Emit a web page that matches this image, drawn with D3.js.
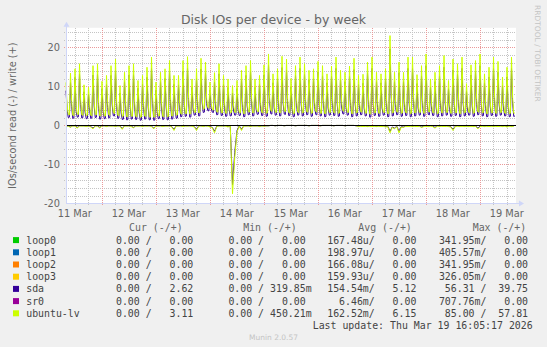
<!DOCTYPE html>
<html>
<head>
<meta charset="utf-8">
<script src="https://cdn.jsdelivr.net/npm/d3@7"></script>
<style>
  html, body { margin: 0; padding: 0; background: #f0f0f0; }
  svg { display: block; }
  text { font-family: "DejaVu Sans", sans-serif; fill: #666; }
  text.mono { font-family: "DejaVu Sans Mono", monospace; white-space: pre; }
</style>
</head>
<body>
<div id="chart"></div>
<script>
// first sample at 11 Mar 08:05 (UTC); writes every 30 min, reads every hour
const startTime = Date.UTC(2026, 2, 11, 8, 5);
const writeStepHours = 0.5;
const readStepHours = 1;

const ubuntuLvWrite = [
  11.0, 5.2, 2.8, 2.7, 13.4, 6.1, 2.6, 2.5,
  14.5, 4.8, 2.9, 2.8, 15.8, 6.5, 2.7, 2.6,
  10.4, 4.5, 2.5, 2.6, 9.8, 5.0, 2.6, 2.5,
  15.3, 6.2, 2.8, 2.7, 15.8, 5.6, 2.4, 2.5,
  11.3, 4.9, 2.5, 2.4, 12.8, 5.8, 2.7, 2.6,
  15.3, 6.6, 3.4, 3.0, 17.0, 6.0, 2.6, 2.5,
  10.2, 4.4, 2.3, 2.4, 13.6, 5.5, 2.2, 2.3,
  15.3, 6.3, 2.4, 2.3, 15.8, 5.9, 2.3, 2.2,
  11.5, 4.6, 2.1, 2.2, 12.8, 5.3, 2.4, 2.3,
  14.9, 6.1, 2.2, 2.1, 17.5, 6.8, 2.1, 2.2,
  11.1, 4.7, 2.5, 2.4, 13.6, 5.4, 2.3, 2.2,
  14.5, 6.0, 2.2, 2.3, 16.6, 6.4, 2.4, 2.5,
  12.8, 5.2, 2.6, 2.7, 12.8, 5.7, 3.0, 2.9,
  16.6, 6.5, 3.1, 3.0, 17.6, 6.9, 2.9, 3.1,
  11.9, 5.4, 3.4, 3.3, 14.5, 6.3, 3.2, 3.5,
  17.2, 7.1, 4.1, 4.3, 16.2, 6.8, 4.6, 4.4,
  11.1, 5.6, 4.2, 3.9, 13.5, 5.9, 3.5, 3.4,
  15.8, 6.4, 3.3, 3.2, 12.8, 5.5, 3.1, 3.2,
  11.9, 5.2, 3.2, 3.3, 10.2, 4.9, 3.4, 3.3,
  11.5, 5.1, 3.3, 3.2, 14.1, 5.8, 3.0, 3.1,
  15.3, 6.2, 3.5, 3.4, 16.6, 6.7, 3.2, 3.3,
  11.9, 5.3, 3.6, 3.5, 12.8, 5.6, 3.3, 3.2,
  15.5, 6.4, 3.1, 3.2, 18.3, 7.0, 3.8, 3.6,
  13.2, 5.7, 3.4, 3.3, 14.5, 6.1, 3.2, 3.3,
  17.7, 6.9, 3.7, 3.5, 17.0, 6.6, 3.3, 3.2,
  12.0, 5.4, 3.0, 3.1, 15.3, 6.2, 3.4, 3.3,
  17.5, 6.8, 3.2, 3.3, 15.8, 6.3, 3.5, 3.4,
  14.1, 5.9, 3.1, 3.2, 14.5, 6.0, 3.6, 3.4,
  16.4, 6.6, 3.2, 3.1, 15.3, 6.2, 3.0, 3.1,
  13.2, 5.6, 3.4, 3.3, 15.2, 6.2, 3.3, 3.2,
  17.5, 6.9, 3.1, 3.2, 14.1, 5.9, 3.8, 3.6,
  13.6, 5.7, 3.4, 3.3, 15.2, 6.3, 3.0, 3.1,
  17.2, 6.8, 3.2, 3.3, 12.8, 5.5, 3.5, 3.4,
  13.1, 5.6, 3.2, 3.1, 16.2, 6.5, 2.9, 3.0,
  17.5, 6.9, 3.3, 3.2, 13.6, 5.8, 3.1, 3.2,
  13.2, 5.6, 3.4, 3.3, 14.5, 6.1, 3.0, 3.1,
  23.0, 8.5, 3.2, 3.3, 13.6, 5.8, 3.5, 3.4,
  16.2, 6.5, 3.1, 3.2, 13.6, 5.8, 3.3, 3.2,
  17.5, 6.9, 3.0, 3.1, 17.5, 6.8, 3.2, 3.3,
  13.0, 5.6, 3.4, 3.3, 15.3, 6.2, 3.1, 3.2,
  18.3, 7.1, 3.6, 3.4, 11.9, 5.3, 3.3, 3.2,
  13.6, 5.8, 3.0, 3.1, 15.3, 6.2, 3.2, 3.3,
  17.9, 7.0, 3.4, 3.3, 11.5, 5.2, 3.1, 3.2,
  17.0, 6.7, 3.3, 3.2, 15.8, 6.4, 3.0, 3.1,
  17.5, 6.9, 3.2, 3.3, 10.7, 5.0, 3.4, 3.3,
  15.5, 6.3, 3.1, 3.2, 16.6, 6.6, 3.5, 3.4,
  18.3, 7.1, 3.2, 3.3, 13.2, 5.6, 3.0, 3.1,
  14.9, 6.2, 3.3, 3.2, 17.5, 6.9, 3.1, 3.2,
  16.4, 6.6, 3.4, 3.3, 12.4, 5.4, 3.2, 3.1,
  14.9, 6.1, 3.0, 3.1, 17.5, 6.9, 3.1, 3.2
];

const sdaWrite = [
  8.9, 4.0, 2.0, 2.1, 11.0, 4.9, 1.8, 1.9,
  12.3, 3.6, 2.1, 2.2, 13.2, 5.3, 1.9, 2.0,
  8.6, 3.3, 1.7, 1.8, 8.0, 3.8, 1.8, 1.9,
  12.9, 5.0, 2.0, 2.1, 13.1, 4.4, 1.6, 1.7,
  9.4, 3.7, 1.7, 1.8, 10.5, 4.6, 1.9, 2.0,
  12.8, 5.4, 2.5, 2.4, 14.1, 4.8, 1.8, 1.9,
  8.3, 3.2, 1.5, 1.6, 11.2, 4.3, 1.4, 1.5,
  12.9, 5.1, 1.6, 1.7, 13.0, 4.7, 1.5, 1.6,
  9.5, 3.4, 1.3, 1.4, 10.6, 4.1, 1.6, 1.7,
  12.3, 4.9, 1.4, 1.5, 14.6, 5.6, 1.3, 1.4,
  9.0, 3.5, 1.7, 1.8, 11.2, 4.2, 1.5, 1.6,
  12.0, 4.8, 1.4, 1.5, 13.9, 5.2, 1.6, 1.7,
  10.5, 4.0, 1.8, 1.9, 10.4, 4.5, 2.2, 2.3,
  13.9, 5.3, 2.3, 2.4, 14.7, 5.7, 2.1, 2.2,
  9.7, 4.2, 2.6, 2.7, 12.0, 5.1, 2.4, 2.5,
  14.4, 5.9, 3.3, 3.4, 13.5, 5.6, 3.8, 3.7,
  9.0, 4.4, 3.4, 3.3, 11.1, 4.7, 2.7, 2.8,
  13.2, 5.2, 2.5, 2.6, 10.5, 4.3, 2.3, 2.4,
  9.7, 4.0, 2.4, 2.5, 8.3, 3.7, 2.6, 2.7,
  9.4, 3.9, 2.5, 2.6, 11.7, 4.6, 2.2, 2.3,
  12.8, 5.0, 2.7, 2.8, 13.9, 5.5, 2.4, 2.5,
  9.7, 4.1, 2.8, 2.9, 10.5, 4.4, 2.5, 2.6,
  12.9, 5.2, 2.3, 2.4, 15.4, 5.8, 3.0, 2.9,
  10.9, 4.5, 2.6, 2.7, 12.0, 4.9, 2.4, 2.5,
  14.8, 5.7, 2.9, 2.8, 14.2, 5.4, 2.5, 2.6,
  9.8, 4.2, 2.2, 2.3, 12.8, 5.0, 2.6, 2.7,
  14.6, 5.6, 2.4, 2.5, 13.1, 5.1, 2.7, 2.8,
  11.7, 4.7, 2.3, 2.4, 12.0, 4.8, 2.8, 2.7,
  13.7, 5.4, 2.4, 2.5, 12.7, 5.0, 2.2, 2.3,
  10.9, 4.4, 2.6, 2.7, 12.6, 5.0, 2.5, 2.6,
  14.6, 5.7, 2.3, 2.4, 11.7, 4.7, 3.0, 2.9,
  11.2, 4.5, 2.6, 2.7, 12.6, 5.1, 2.2, 2.3,
  14.3, 5.6, 2.4, 2.5, 10.5, 4.3, 2.7, 2.8,
  10.8, 4.4, 2.4, 2.5, 13.5, 5.3, 2.1, 2.2,
  14.6, 5.7, 2.5, 2.6, 11.2, 4.6, 2.3, 2.4,
  10.9, 4.4, 2.6, 2.7, 12.0, 4.9, 2.2, 2.3,
  19.6, 7.3, 2.4, 2.5, 11.2, 4.6, 2.7, 2.8,
  13.5, 5.3, 2.3, 2.4, 11.2, 4.6, 2.5, 2.6,
  14.6, 5.7, 2.2, 2.3, 14.6, 5.6, 2.4, 2.5,
  10.7, 4.4, 2.6, 2.7, 12.7, 5.0, 2.3, 2.4,
  15.3, 5.9, 2.8, 2.7, 9.8, 4.1, 2.5, 2.6,
  11.2, 4.6, 2.2, 2.3, 12.7, 5.0, 2.4, 2.5,
  14.9, 5.8, 2.6, 2.7, 9.4, 4.0, 2.3, 2.4,
  14.2, 5.5, 2.5, 2.6, 13.1, 5.2, 2.2, 2.3,
  14.6, 5.7, 2.4, 2.5, 8.7, 3.8, 2.6, 2.7,
  12.9, 5.1, 2.3, 2.4, 13.8, 5.4, 2.7, 2.8,
  15.3, 5.9, 2.4, 2.5, 10.9, 4.4, 2.2, 2.3,
  12.4, 5.0, 2.5, 2.6, 14.6, 5.7, 2.3, 2.4,
  13.6, 5.4, 2.6, 2.7, 10.2, 4.2, 2.4, 2.5,
  12.4, 4.9, 2.2, 2.3, 14.6, 5.7, 2.3, 2.4
];

// read rates, drawn below zero
const ubuntuLvRead = [
  0.1, 0.2, 0.5, 0.1, 0.2, 0.7, 0.1, 0.2, 0.1, 0.3,
  0.1, 0.4, 0.9, 0.1, 0.2, 0.7, 0.1, 0.1, 0.3, 0.1,
  0.2, 0.1, 0.3, 0.1, 0.2, 1.0, 0.1, 0.2, 0.1, 0.3,
  0.6, 0.1, 0.2, 0.1, 0.3, 0.1, 0.2, 0.1, 0.3, 0.9,
  0.1, 0.2, 0.1, 0.3, 0.1, 0.2, 0.1, 0.4, 1.3, 0.1,
  0.2, 0.1, 0.3, 0.1, 0.2, 0.1, 0.2, 0.4, 1.3, 0.2,
  0.1, 0.3, 0.1, 0.2, 0.4, 0.6, 1.9, 0.3, 0.1, 0.2,
  0.1, 0.2, 0.4, 0.1, 17.5, 8.1, 1.7, 0.2, 1.3, 0.1,
  0.2, 0.1, 0.3, 0.1, 0.2, 0.1, 0.3, 0.1, 0.2, 0.1,
  0.1, 0.0, 0.0, 0.1, 0.0, 0.0, 0.0, 0.1, 0.0, 0.0,
  0.0, 0.0, 0.1, 0.0, 0.0, 0.0, 0.0, 0.0, 0.1, 0.0,
  0.0, 0.0, 0.0, 0.1, 0.0, 0.0, 0.0, 0.0, 0.0, 0.1,
  0.0, 0.0, 0.0, 0.0, 0.1, 0.0, 0.0, 0.0, 0.0, 0.1,
  0.3, 0.2, 0.3, 0.2, 0.3, 0.2, 0.3, 0.2, 0.3, 0.2,
  0.3, 0.2, 0.4, 0.3, 1.9, 0.5, 0.9, 0.3, 1.9, 0.4,
  0.5, 0.2, 0.3, 0.2, 0.3, 0.2, 0.3, 0.2, 0.5, 0.3,
  0.2, 0.3, 0.2, 0.3, 0.7, 0.2, 0.3, 0.2, 0.3, 0.2,
  0.3, 0.4, 1.3, 0.3, 0.2, 0.3, 0.2, 0.3, 0.2, 0.3,
  0.2, 0.3, 0.2, 0.9, 0.3, 0.2, 0.3, 0.2, 0.3, 0.2,
  0.3, 0.2, 0.3, 0.2, 0.3, 0.2, 0.4, 0.2, 0.3, 0.2
];

const sdaRead = [
  0.1, 0.1, 0.4, 0.1, 0.1, 0.5, 0.1, 0.1, 0.1, 0.2,
  0.1, 0.3, 0.7, 0.1, 0.1, 0.5, 0.1, 0.1, 0.2, 0.1,
  0.1, 0.1, 0.2, 0.1, 0.1, 0.8, 0.1, 0.1, 0.1, 0.2,
  0.5, 0.1, 0.1, 0.1, 0.2, 0.1, 0.1, 0.1, 0.2, 0.7,
  0.1, 0.1, 0.1, 0.2, 0.1, 0.1, 0.1, 0.3, 1.0, 0.1,
  0.1, 0.1, 0.2, 0.1, 0.1, 0.1, 0.1, 0.3, 1.0, 0.1,
  0.1, 0.2, 0.1, 0.1, 0.3, 0.5, 1.5, 0.2, 0.1, 0.1,
  0.1, 0.1, 0.3, 0.1, 15.2, 6.9, 1.3, 0.1, 1.0, 0.1,
  0.1, 0.1, 0.2, 0.1, 0.1, 0.1, 0.2, 0.1, 0.1, 0.1,
  0.1, 0.0, 0.0, 0.1, 0.0, 0.0, 0.0, 0.1, 0.0, 0.0,
  0.0, 0.0, 0.1, 0.0, 0.0, 0.0, 0.0, 0.0, 0.1, 0.0,
  0.0, 0.0, 0.0, 0.1, 0.0, 0.0, 0.0, 0.0, 0.0, 0.1,
  0.0, 0.0, 0.0, 0.0, 0.1, 0.0, 0.0, 0.0, 0.0, 0.1,
  0.2, 0.1, 0.2, 0.1, 0.2, 0.1, 0.2, 0.1, 0.2, 0.1,
  0.2, 0.1, 0.3, 0.2, 1.5, 0.4, 0.7, 0.2, 1.5, 0.3,
  0.4, 0.1, 0.2, 0.1, 0.2, 0.1, 0.2, 0.1, 0.4, 0.2,
  0.1, 0.2, 0.1, 0.2, 0.5, 0.1, 0.2, 0.1, 0.2, 0.1,
  0.2, 0.3, 1.0, 0.2, 0.1, 0.2, 0.1, 0.2, 0.1, 0.2,
  0.1, 0.2, 0.1, 0.7, 0.2, 0.1, 0.2, 0.1, 0.2, 0.1,
  0.2, 0.1, 0.2, 0.1, 0.2, 0.1, 0.3, 0.1, 0.2, 0.1
];

const yTickValues = [-20, -10, 0, 10, 20];

// legend
const legendNames = ["loop0", "loop1", "loop2", "loop3", "sda", "sr0", "ubuntu-lv"];
const legendColors = ["#00cc00", "#0066b3", "#ff8000", "#ffcc00", "#330099", "#990099", "#ccff00"];
const curRead  = ["0.00", "0.00", "0.00", "0.00", "0.00", "0.00", "0.00"];
const curWrite = ["0.00", "0.00", "0.00", "0.00", "2.62", "0.00", "3.11"];
const minRead  = ["0.00", "0.00", "0.00", "0.00", "0.00", "0.00", "0.00"];
const minWrite = ["0.00", "0.00", "0.00", "0.00", "319.85m", "0.00", "450.21m"];
const avgRead  = ["167.48u", "198.97u", "166.08u", "159.93u", "154.54m", "6.46m", "162.52m"];
const avgWrite = ["0.00", "0.00", "0.00", "0.00", "5.12", "0.00", "6.15"];
const maxRead  = ["341.95m", "405.57m", "341.95m", "326.05m", "56.31", "707.76m", "85.00"];
const maxWrite = ["0.00", "0.00", "0.00", "0.00", "39.75", "0.00", "57.81"];

const width = 547, height = 347;
const plot = {left: 66, right: 516, top: 27.8, bottom: 203.5};

const svg = d3.select("#chart")
    .append("svg")
    .attr("width", width)
    .attr("height", height)
    .attr("viewBox", `0 0 ${width} ${height}`);

svg.append("rect").attr("width", width).attr("height", height).attr("fill", "#f0f0f0");
svg.append("rect")
    .attr("x", plot.left).attr("y", plot.top)
    .attr("width", plot.right - plot.left).attr("height", plot.bottom - plot.top)
    .attr("fill", "#ffffff");

const hour = 3600 * 1000;
const t0 = new Date(startTime);
const t1 = new Date(startTime + 200 * hour);

const x = d3.scaleUtc().domain([t0, t1]).range([plot.left, plot.right]);
const y = d3.scaleLinear().domain([-20, 25]).range([plot.bottom, plot.top]);

// grid
const grid = svg.append("g").attr("shape-rendering", "crispEdges");
const midnights = d3.utcDay.range(t0, t1);
const sixHours = d3.utcHour.every(6).range(t0, t1).filter(d => d.getUTCHours() !== 0);
const px = v => Math.round(v) + 0.5;

grid.selectAll("line.vminor")
    .data(sixHours)
    .join("line")
    .attr("x1", d => px(x(d))).attr("x2", d => px(x(d)))
    .attr("y1", plot.top).attr("y2", plot.bottom + 2)
    .attr("stroke", "#c4c4c4").attr("stroke-dasharray", "1,1");

const yMinor = d3.range(-18, 25, 2).filter(v => v % 10 !== 0);
grid.selectAll("line.hminor")
    .data(yMinor)
    .join("line")
    .attr("x1", plot.left - 2).attr("x2", plot.right)
    .attr("y1", d => px(y(d))).attr("y2", d => px(y(d)))
    .attr("stroke", "#c4c4c4").attr("stroke-dasharray", "1,1");

grid.selectAll("line.vmajor")
    .data(midnights)
    .join("line")
    .attr("x1", d => px(x(d))).attr("x2", d => px(x(d)))
    .attr("y1", plot.top).attr("y2", plot.bottom + 2)
    .attr("stroke", "#eb9a9a").attr("stroke-dasharray", "1,1");

grid.selectAll("line.hmajor")
    .data([-10, 0, 10, 20])
    .join("line")
    .attr("x1", plot.left - 2).attr("x2", plot.right)
    .attr("y1", d => px(y(d))).attr("y2", d => px(y(d)))
    .attr("stroke", "#eb9a9a").attr("stroke-dasharray", "1,1");

// data lines
const lineFor = (step, sign) => d3.line()
    .x((d, i) => x(new Date(startTime + i * step * hour)))
    .y(d => y(sign * d));

const series = [
    {read: sdaRead, write: sdaWrite, color: "#330099"},
    {read: ubuntuLvRead, write: ubuntuLvWrite, color: "#ccff00"}
];

const lines = svg.append("g").attr("fill", "none").attr("stroke-width", 1);
series.forEach(s => {
    lines.append("path").attr("d", lineFor(readStepHours, -1)(s.read)).attr("stroke", s.color);
    lines.append("path").attr("d", lineFor(writeStepHours, 1)(s.write)).attr("stroke", s.color);
});

// zero line
svg.append("line")
    .attr("x1", plot.left).attr("x2", plot.right)
    .attr("y1", px(y(0))).attr("y2", px(y(0)))
    .attr("stroke", "#000").attr("shape-rendering", "crispEdges");

// axes with arrows
const axisColor = "#cfd6f8";
svg.append("line")
    .attr("x1", plot.left).attr("x2", plot.right + 4)
    .attr("y1", plot.bottom).attr("y2", plot.bottom)
    .attr("stroke", axisColor).attr("shape-rendering", "crispEdges");
svg.append("line")
    .attr("x1", plot.left + 0.5).attr("x2", plot.left + 0.5)
    .attr("y1", plot.bottom).attr("y2", plot.top - 4)
    .attr("stroke", axisColor).attr("shape-rendering", "crispEdges");
svg.append("path")
    .attr("d", `M${plot.right + 3},${plot.bottom - 3}L${plot.right + 8},${plot.bottom}L${plot.right + 3},${plot.bottom + 3}Z`)
    .attr("fill", axisColor);
svg.append("path")
    .attr("d", `M${plot.left - 2.5},${plot.top - 1}L${plot.left + 0.5},${plot.top - 6}L${plot.left + 3.5},${plot.top - 1}Z`)
    .attr("fill", axisColor);

// tick labels
svg.append("g")
    .selectAll("text")
    .data(yTickValues)
    .join("text")
    .attr("x", 60).attr("y", d => y(d))
    .attr("dy", "0.36em")
    .attr("text-anchor", "end")
    .attr("font-size", 9.8)
    .text(d => d);

const fmtDay = d3.utcFormat("%d %b");
svg.append("g")
    .selectAll("text")
    .data(d3.utcDay.range(d3.utcDay.floor(t0), t1).map(d => d3.utcHour.offset(d, 12)).filter(d => d > t0 && d < t1))
    .join("text")
    .attr("x", d => x(d)).attr("y", 216.8)
    .attr("text-anchor", "middle")
    .attr("font-size", 9.8)
    .text(d => fmtDay(d));

// titles
svg.append("text")
    .attr("x", width / 2).attr("y", 23.5)
    .attr("text-anchor", "middle")
    .attr("font-size", 12.5)
    .text("Disk IOs per device - by week");

svg.append("text")
    .attr("transform", `translate(12,${(plot.top + plot.bottom) / 2}) rotate(-90)`)
    .attr("dy", "0.36em")
    .attr("text-anchor", "middle")
    .attr("font-size", 9.8)
    .text("IOs/second read (-) / write (+)");

svg.append("text")
    .attr("transform", "translate(535,5) rotate(90)")
    .attr("font-size", 7.5)
    .style("fill", "#c4c4c4")
    .text("RRDTOOL / TOBI OETIKER");

// legend
function cell(s, w) {
    const hasSuffix = /[a-zA-Z]$/.test(s);
    const num = hasSuffix ? s.slice(0, -1) : s;
    return num.padStart(w) + (hasSuffix ? s.slice(-1) : " ");
}
const colX = [104.1, 216.5, 327.2, 438.9];
const headX = [129.1, 243.2, 358.3, 472.7];
const headers = ["Cur (-/+)", "Min (-/+)", "Avg (-/+)", "Max (-/+)"];
const rowY0 = 243.6, rowStep = 12.2;
const legend = svg.append("g").attr("font-size", 9.9);

legend.selectAll("text.head")
    .data(headers)
    .join("text")
    .attr("class", "mono")
    .attr("x", (d, i) => headX[i]).attr("y", rowY0 - rowStep)
    .text(d => d);

const cols = [[curRead, curWrite], [minRead, minWrite], [avgRead, avgWrite], [maxRead, maxWrite]];
legendNames.forEach((name, i) => {
    const yy = rowY0 + i * rowStep;
    legend.append("rect")
        .attr("x", 13).attr("y", yy - 6.5)
        .attr("width", 6).attr("height", 6)
        .attr("fill", legendColors[i]);
    legend.append("text").attr("class", "mono").attr("x", 26.2).attr("y", yy).style("fill", "#444").text(name);
    cols.forEach(([r, w], c) => {
        legend.append("text")
            .attr("class", "mono")
            .attr("xml:space", "preserve")
            .attr("x", colX[c]).attr("y", yy)
            .style("fill", "#444")
            .text(cell(r[i], 6) + "/" + cell(w[i], 7));
    });
});

legend.append("text")
    .attr("class", "mono")
    .attr("x", 532.7).attr("y", rowY0 + 7 * rowStep)
    .attr("text-anchor", "end")
    .style("fill", "#444")
    .text("Last update: Thu Mar 19 16:05:17 2026");

svg.append("text")
    .attr("x", width / 2).attr("y", 339.5)
    .attr("text-anchor", "middle")
    .attr("font-size", 7.5)
    .style("fill", "#c4c4c4")
    .text("Munin 2.0.57");
</script>
</body>
</html>
